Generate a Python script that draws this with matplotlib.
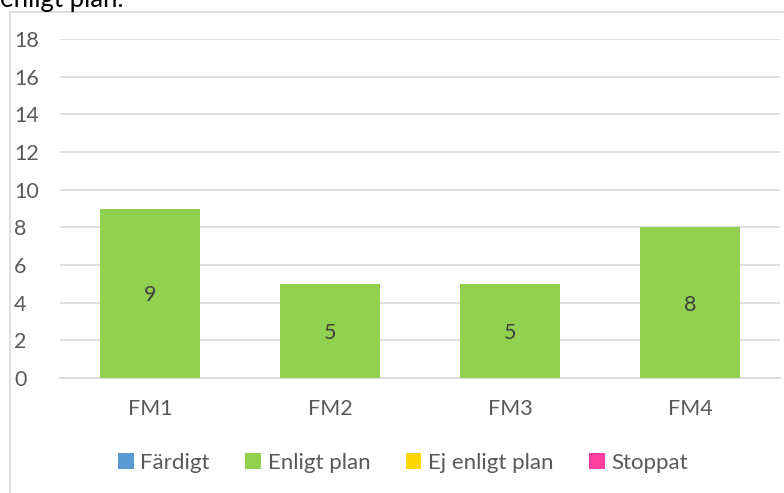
import matplotlib
matplotlib.use("Agg")
import matplotlib.pyplot as plt
from matplotlib.patches import Rectangle
import numpy as np

plt.rcParams['font.family'] = ['Lato', 'DejaVu Sans']

categories = ["FM1", "FM2", "FM3", "FM4"]
series_names = ["Färdigt", "Enligt plan", "Ej enligt plan", "Stoppat"]
faerdigt = [0, 0, 0, 0]
enligt_plan = [9, 5, 5, 8]
ej_enligt_plan = [0, 0, 0, 0]
stoppat = [0, 0, 0, 0]
colors = ["#5B9BD5", "#92D050", "#FFD700", "#FF3F9F"]
yticks = [0, 2, 4, 6, 8, 10, 12, 14, 16, 18]
title_text = "enligt plan."

fig = plt.figure(figsize=(7.84, 4.93), dpi=100)
fig.patch.set_facecolor("white")

# chart border
fig.add_artist(Rectangle((10 / 784, -0.05), 2, 1 - 12 / 493 + 0.05,
                         transform=fig.transFigure, fill=False,
                         edgecolor="#D9D9D9", linewidth=1.2))
fig.text(0.0, 1 - 7 / 493, title_text, fontsize=18.5, color="#000000",
         va="baseline", ha="left")

ax = fig.add_axes([60 / 784, 1 - 378 / 493, 720 / 784, (378 - 39) / 493])
x = np.arange(len(categories))
width = 0.555
bottom = np.zeros(len(categories))
data = [faerdigt, enligt_plan, ej_enligt_plan, stoppat]
handles = []
for name, vals, c in zip(series_names, data, colors):
    vals = np.array(vals, dtype=float)
    b = ax.bar(x, vals, width, bottom=bottom, color=c, label=name, zorder=3)
    handles.append(b)
    for xi, v, bt in zip(x, vals, bottom):
        if v > 0:
            ax.text(xi, bt + v / 2, f"{int(v)}", ha="center",
                    va="center_baseline", fontsize=15.5, color="#404040",
                    zorder=4)
    bottom += vals

ax.set_xlim(-0.5, len(categories) - 0.5)
ax.set_ylim(0, 18)
ax.set_yticks(yticks)
ax.set_yticklabels([str(t) for t in yticks])
ax.set_xticks(x)
ax.set_xticklabels(categories)
ax.yaxis.grid(True, color="#D9D9D9", linewidth=1.2, zorder=0)
ax.set_axisbelow(True)
for s in ["top", "right", "left"]:
    ax.spines[s].set_visible(False)
ax.spines["bottom"].set_color("#D9D9D9")
ax.spines["bottom"].set_linewidth(1.2)
ax.tick_params(axis="both", length=0, labelsize=15.5, labelcolor="#595959")
ax.tick_params(axis="y", pad=33)
ax.tick_params(axis="x", pad=15)
for lbl in ax.get_yticklabels():
    lbl.set_horizontalalignment("left")
ax.set_facecolor("none")

fig.legend(handles=handles, labels=series_names, loc="center",
           bbox_to_anchor=(403 / 784, 1 - 463 / 493), ncol=4, frameon=False,
           fontsize=16, labelcolor="#595959", handlelength=0.7,
           handleheight=0.7, handletextpad=0.3, columnspacing=1.6)

fig.savefig("out.png", dpi=100)
